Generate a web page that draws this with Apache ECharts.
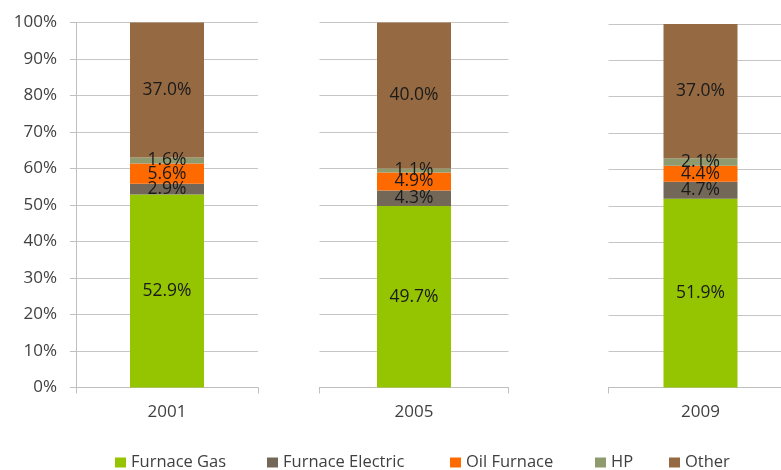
<!DOCTYPE html>
<html><head><meta charset="utf-8">
<script src="https://cdn.jsdelivr.net/npm/echarts@6/dist/echarts.min.js"></script>
<style>html,body{margin:0;padding:0;background:#fff;overflow:hidden}#c{width:800px;height:470px}</style>
</head><body><div id="c"></div>
<script>
const years = ['2001', '2005', '2009'];
const seriesNames = ['Furnace Gas', 'Furnace Electric', 'Oil Furnace', 'HP', 'Other'];
const furnaceGas = [52.9, 49.7, 51.9];
const furnaceElectric = [2.9, 4.3, 4.7];
const oilFurnace = [5.6, 4.9, 4.4];
const hp = [1.6, 1.1, 2.1];
const other = [37.0, 40.0, 37.0];
const yTicks = [0, 10, 20, 30, 40, 50, 60, 70, 80, 90, 100];

const values = [furnaceGas, furnaceElectric, oilFurnace, hp, other];
const colors = ['#94C500', '#736858', '#FF6A00', '#8F9A6E', '#956A43'];
const legendLeft = [115, 267, 450, 595, 669];
const FONT = '"Open Sans"';
const grids = [
  {left: 76, top: 22.5, width: 182, height: 365},
  {left: 319.5, top: 22.5, width: 189, height: 365},
  {left: 608.5, top: 24, width: 184, height: 363.5}
];
const xAxes = [], yAxes = [], series = [];
grids.forEach((g, i) => {
  xAxes.push({
    type: 'category', gridIndex: i, data: [years[i]],
    axisLine: {lineStyle: {color: '#BFBFBF'}},
    axisTick: {show: true, length: 6, lineStyle: {color: '#BFBFBF'}},
    axisLabel: {color: '#404040', fontSize: 17, fontFamily: FONT, margin: 16}
  });
  yAxes.push({
    type: 'value', gridIndex: i, min: 0, max: 100, interval: 10,
    axisLine: {show: i === 0, lineStyle: {color: '#BFBFBF'}},
    axisTick: {show: i === 0, length: 6, lineStyle: {color: '#BFBFBF'}},
    axisLabel: {show: i === 0, color: '#404040', fontSize: 17, fontFamily: FONT, margin: 19,
      formatter: v => yTicks.includes(v) ? v + '%' : ''},
    splitLine: {show: true, lineStyle: {color: '#C6C6C6', width: 1}}
  });
  seriesNames.forEach((name, k) => {
    series.push({
      name: name, type: 'bar', stack: 'g' + i, xAxisIndex: i, yAxisIndex: i,
      barWidth: 74,
      data: [values[k][i]],
      itemStyle: {color: colors[k]},
      label: {show: true, position: 'inside', color: '#1a1a1a', fontSize: 17.5, fontFamily: FONT,
        formatter: p => p.value.toFixed(1) + '%'}
    });
  });
});
const legends = seriesNames.map((name, k) => ({
  data: [name], left: legendLeft[k], top: 454, padding: 0, icon: 'rect',
  itemWidth: 11, itemHeight: 10,
  textStyle: {color: '#404040', fontSize: 16.5, fontFamily: FONT}
}));
const chart = echarts.init(document.getElementById('c'));
chart.setOption({
  animation: false,
  grid: grids,
  xAxis: xAxes,
  yAxis: yAxes,
  legend: legends,
  series: series
});
</script></body></html>
